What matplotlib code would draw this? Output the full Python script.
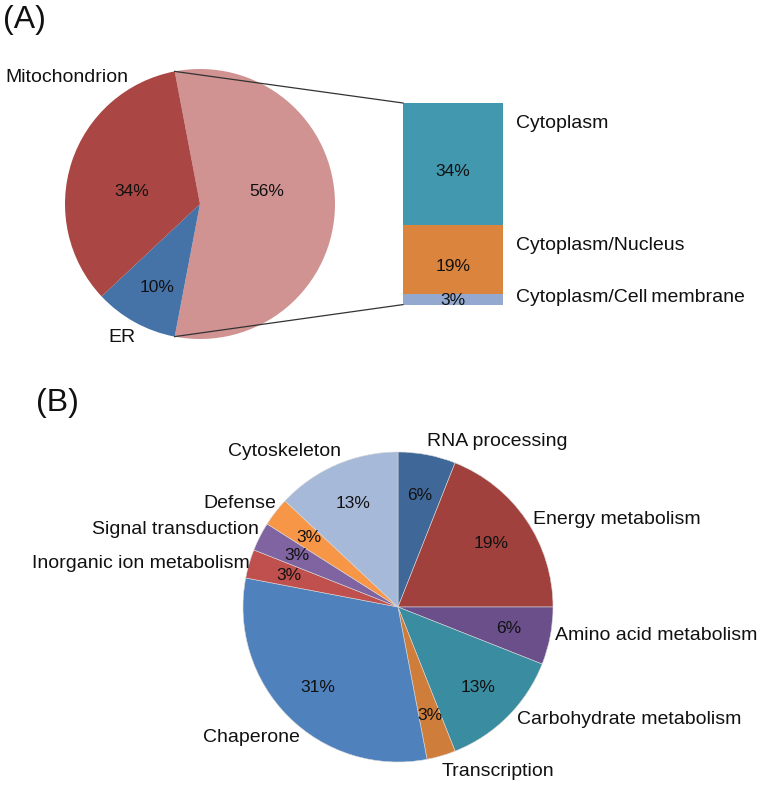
import numpy as np
import matplotlib
matplotlib.use("Agg")
import matplotlib.pyplot as plt

plt.rcParams['font.family'] = ['Liberation Sans', 'DejaVu Sans']

# (A) subcellular location
loc_labels = ["Other", "ER", "Mitochondrion"]
loc_values = [56, 10, 34]
loc_colors = ["#D09392", "#4572A7", "#AA4643"]

# breakdown of the 56% slice
sub_labels = ["Cytoplasm", "Cytoplasm/Nucleus", "Cytoplasm/Cell\u2009membrane"]
sub_values = [34, 19, 3]
sub_colors = ["#4198AF", "#DB843D", "#93A9CF"]

# (B) functional categories
fun_labels = ["RNA processing", "Energy metabolism", "Amino acid metabolism",
              "Carbohydrate metabolism", "Transcription", "Chaperone",
              "Inorganic ion metabolism", "Signal transduction", "Defense",
              "Cytoskeleton"]
fun_values = [6, 19, 6, 13, 3, 31, 3, 3, 3, 13]
fun_colors = ["#3F6899", "#A0413E", "#6A4F8A", "#3A8CA1", "#CF7D3A",
              "#4F81BD", "#C0504D", "#8064A2", "#F79646", "#A7B9D9"]

W, H = 759, 787
fig = plt.figure(figsize=(W / 100, H / 100), dpi=100)
ax = fig.add_axes([0, 0, 1, 1])


def py(y):
    # pixel row -> data y
    return H - y


LBL = 14
PCT = 12.5
TXT = "#111111"

# ---- panel A pie (56% slice centred on the right side)
cA = (200, py(204))
rA = 135
startA = 360 * loc_values[0] / 100 / 2
wedges, _ = ax.pie(loc_values, colors=loc_colors, startangle=startA,
                   counterclock=False, center=cA, radius=rA,
                   wedgeprops=dict(linewidth=0), frame=True)

# percentage label anchors in pixels (excel "best fit" placement)
pct_pos_A = [(267, 192), (157, 287), (132, 192)]
for v, (xx, yy) in zip(loc_values, pct_pos_A):
    ax.text(xx, py(yy), f"{v}%", ha='center', va='center', fontsize=PCT, color=TXT)

ax.text(5, py(77), "Mitochondrion", ha='left', va='center', fontsize=LBL, color=TXT)
ax.text(122, py(338), "ER", ha='center', va='center', fontsize=LBL, color=TXT)

# ---- stacked bar for the 56% slice
bx, bw = 453, 100
top = py(103)
scale = 3.6
bottom = top
for v, c in zip(sub_values, sub_colors):
    bottom -= v * scale
    ax.bar(bx, v * scale, width=bw, bottom=bottom, color=c, linewidth=0)
    off = 7 if v > 5 else 1
    ax.text(bx, bottom + v * scale / 2 - off, f"{v}%",
            ha='center', va='center', fontsize=PCT, color=TXT)
bar_bottom = bottom

for lab, yy in zip(sub_labels, [123, 245, 298]):
    ax.text(516, py(yy), lab, ha='left', va='center', fontsize=LBL, color=TXT)

# connector lines from the slice edges to the bar corners
w0 = wedges[0]
for ang, yb in [(max(w0.theta1, w0.theta2), top), (min(w0.theta1, w0.theta2), bar_bottom)]:
    a = np.deg2rad(ang)
    x0, y0 = cA[0] + rA * np.cos(a), cA[1] + rA * np.sin(a)
    ax.plot([x0, bx - bw / 2], [y0, yb], color="#333333", lw=0.9)

ax.text(3, py(20), "(A)", ha='left', va='center', fontsize=23, color=TXT)

# ---- panel B pie
cB = (398, py(607))
rB = 155
wB, _ = ax.pie(fun_values, colors=fun_colors, startangle=90, counterclock=False,
               center=cB, radius=rB,
               wedgeprops=dict(linewidth=0.4, edgecolor="#d8d8d8"), frame=True)

for w, v in zip(wB, fun_values):
    mid = np.deg2rad((w.theta1 + w.theta2) / 2)
    ax.text(cB[0] + 0.73 * rB * np.cos(mid), cB[1] + 0.73 * rB * np.sin(mid),
            f"{v}%", ha='center', va='center', fontsize=PCT, color=TXT)

# label anchors (left x, centre y) in pixels
fun_pos = [(427, 441), (533, 520), (555, 636), (517, 719), (442, 772),
           (203, 737), (32, 563), (92, 530), (203, 503), (228, 451)]
for lab, (xx, yy) in zip(fun_labels, fun_pos):
    ax.text(xx, py(yy), lab, ha='left', va='center', fontsize=LBL, color=TXT)

ax.text(36, py(403), "(B)", ha='left', va='center', fontsize=23, color=TXT)

ax.set_xlim(0, W)
ax.set_ylim(0, H)
ax.set_aspect('equal')
ax.axis('off')

fig.savefig("out.png", dpi=100)
